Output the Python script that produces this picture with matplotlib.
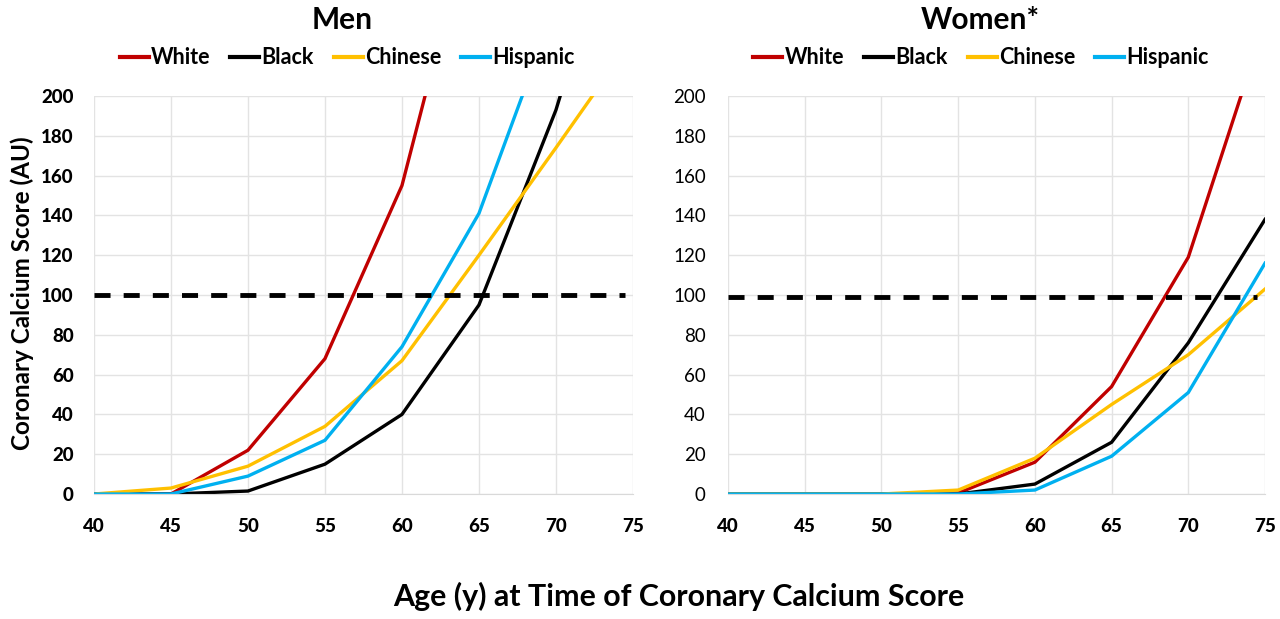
import matplotlib
matplotlib.use("Agg")
import matplotlib.pyplot as plt
from matplotlib.lines import Line2D
from matplotlib import font_manager as fm

ages = [40, 45, 50, 55, 60, 65, 70, 75]
groups = ["White", "Black", "Chinese", "Hispanic"]
colors = ["#C00000", "#000000", "#FFC000", "#00B0F0"]

men_white = [0, 0, 22, 68, 155, 305, 480, 700]
men_black = [0, 0, 1.5, 15, 40, 95, 193, 320]
men_chinese = [0, 3, 14, 34, 67, 120, 174, 229]
men_hispanic = [0, 0, 9, 27, 74, 141, 246, 380]

women_white = [0, 0, 0, 0.5, 16, 54, 119, 237]
women_black = [0, 0, 0, 0, 5, 26, 76, 138]
women_chinese = [0, 0, 0, 2, 18, 45, 70, 103]
women_hispanic = [0, 0, 0, 0, 2, 19, 51, 116]

men_threshold = 100
women_threshold = 99
threshold_x = [40, 74.5]

yticks = list(range(0, 201, 20))

plt.rcParams['font.family'] = ['Lato', 'DejaVu Sans']

tick_bold = fm.FontProperties(family='Lato', weight='black', size=13.5)
tick_reg = fm.FontProperties(family='Lato', weight='normal', size=13.5)

fig = plt.figure(figsize=(12.8, 6.19), dpi=100)
ax_m = fig.add_axes([0.0734, 0.2019, 0.4211, 0.6430])
ax_w = fig.add_axes([0.5688, 0.2019, 0.4195, 0.6430])

panels = [
    (ax_m, "Men", [men_white, men_black, men_chinese, men_hispanic], men_threshold, 14.5, 0.460, 0.470, tick_bold),
    (ax_w, "Women*", [women_white, women_black, women_chinese, women_hispanic], women_threshold, 16, 0.469, 0.471, tick_reg),
]

for ax, title, series, thr, ypad, tx, lx, yfp in panels:
    for vals, c, g in zip(series, colors, groups):
        ax.plot(ages, vals, color=c, lw=2.4, label=g, solid_joinstyle='miter', clip_on=True)
    ax.plot(threshold_x, [thr, thr], color='black', lw=3.5, dashes=(3.3, 2.7))
    ax.set_xlim(40, 75)
    ax.set_ylim(0, 200)
    ax.set_xticks(ages)
    ax.set_yticks(yticks)
    ax.grid(True, color='#E3E3E3', lw=1)
    ax.set_axisbelow(True)
    for s in ax.spines.values():
        s.set_visible(False)
    ax.spines['bottom'].set_visible(True)
    ax.spines['bottom'].set_color('#D9D9D9')
    ax.tick_params(axis='x', length=0, pad=17)
    ax.tick_params(axis='y', length=0, pad=ypad)
    ax.set_xticklabels([str(a) for a in ages], fontproperties=tick_bold)
    ax.set_yticklabels([str(v) for v in yticks], fontproperties=yfp)
    ax.set_title(title, fontsize=21.5, fontweight='bold', pad=48, x=tx)
    handles = [Line2D([0], [0], color=c, lw=3) for c in colors]
    ax.legend(handles, groups, loc='lower center', bbox_to_anchor=(lx, 1.07),
              ncol=4, frameon=False, handlelength=1.35, handletextpad=0.1,
              columnspacing=0.93, borderaxespad=0, borderpad=0,
              prop={'weight': 'bold', 'size': 15.5})

fig.text(0.008, 0.527, "Coronary Calcium Score (AU)", rotation=90, va='center', ha='left',
         fontsize=17.5, fontweight='bold')
fig.text(0.530, 0.037, "Age (y) at Time of Coronary Calcium Score", ha='center', va='center',
         fontsize=21.9, fontweight='bold')

fig.savefig("out.png", dpi=100)
